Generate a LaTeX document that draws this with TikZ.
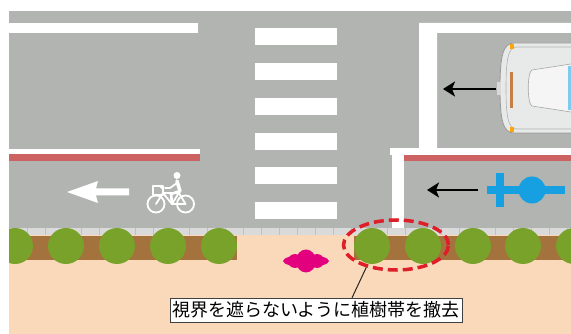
\documentclass[tikz,border=0pt]{standalone}
\usepackage{fontspec}
\newfontfamily\jpfont{Noto Sans CJK JP}
\usetikzlibrary{arrows.meta, shapes.geometric}

\definecolor{road}{RGB}{178,180,178}
\definecolor{walk}{RGB}{250,217,186}
\definecolor{bed}{RGB}{164,115,61}
\definecolor{treegreen}{RGB}{120,162,42}
\definecolor{laneRed}{RGB}{204,98,98}
\definecolor{curb}{RGB}{218,218,218}
\definecolor{signblue}{RGB}{22,160,226}
\definecolor{walker}{RGB}{226,0,126}
\definecolor{ringred}{RGB}{222,30,40}
\definecolor{carbody}{RGB}{232,233,233}
\definecolor{lamp}{RGB}{196,128,70}

\begin{document}
\begin{tikzpicture}[x=1pt, y=-1pt, >={Stealth[length=12pt, width=15pt, inset=3pt]},
  tree/.style={fill=treegreen},
  flow/.style={->, line width=2.6pt},
  notebox/.style={draw=black!75, fill=white, inner xsep=2pt, inner ysep=1pt,
    minimum height=24pt, font=\jpfont\fontsize{18}{20}\selectfont},
  ring/.style={ellipse, draw=ringred, line width=3.5pt, dash pattern=on 10pt off 5pt,
    minimum width=105pt, minimum height=50pt, inner sep=0pt}]
\useasboundingbox (0,0) rectangle (571,334);
\fill[white] (0,0) rectangle (571,334);
\begin{scope}
\clip (9,11) rectangle (571,334);

% carriageway and markings
\fill[road] (9,11) rectangle (571,228);
\fill[white] (9,23) rectangle (198,33);
\fill[white] (9,149) rectangle (200,154);
\fill[laneRed] (9,154) rectangle (200,161);
\foreach \y in {28,63,98,133,167,202}
  \fill[white] (255,\y) rectangle (337,\y+17);
\fill[white] (419,23) -- (571,23) -- (571,33) -- (437,33) -- (437,148) -- (419,148) -- cycle;
\fill[white] (390,148) rectangle (571,155);
\fill[white] (392,155) rectangle (404,228);
\fill[laneRed] (404,155) rectangle (571,161);

% car
\begin{scope}
\fill[carbody, draw=black!40, line width=0.8pt] (580,43) -- (514,43)
  .. controls (503,43) and (500,56) .. (500,88)
  .. controls (500,120) and (503,133) .. (514,133) -- (580,133);
\draw[black!30, line width=0.6pt] (580,47) -- (516,47)
  .. controls (508,48) and (506,60) .. (506,88)
  .. controls (506,116) and (508,128) .. (516,129) -- (580,129);
\draw[black!35, line width=0.6pt, fill=black!4] (571,64) -- (532,70)
  .. controls (527,72) and (527,104) .. (532,106) -- (571,112);
\fill[signblue!55] (568,66) rectangle (571,110);
\fill[lamp] (510,72) rectangle (513,108);
\fill[orange!70!yellow] (510,44) rectangle (514,49);
\fill[orange!70!yellow] (510,127) rectangle (514,132);
\fill[black!15] (497,82) rectangle (501,95);
\end{scope}

% cycle lane: arrow and pictogram
\fill[white] (67,192) -- (98,181) -- (96,188.5) -- (129,188.5) -- (129,195.5)
  -- (96,195.5) -- (98,203) -- cycle;
\begin{scope}[white, line width=1.8pt, line cap=round, line join=round]
\draw (156,204) circle (8.5pt);
\draw (185.5,204) circle (8.5pt);
\draw (156,204) -- (163,193) -- (172,204) -- (185.5,204) -- (179,193) -- (163,193);
\draw (172,204) -- (180,191);
\draw[line width=1.3pt] (153,186) rectangle (163,195);
\draw (163,189) -- (160,186);
\draw[line width=3.5pt] (177,181) -- (180,191);
\draw (177,183) -- (170,188) -- (165,188);
\draw[line width=2.6pt] (180,191) -- (171,194) -- (172,203);
\fill (177,175.5) circle (3.5pt);
\end{scope}

% traffic direction and symbol
\draw[flow] (496,89) -- (443,89);
\draw[flow] (478,190) -- (427,190);
\fill[signblue] (487,186) rectangle (565,194);
\fill[signblue] (496,173) rectangle (504,207);
\fill[signblue] (532,190) circle (13.5pt);

% kerb, footway and planting strip
\fill[curb] (9,228) rectangle (571,235);
\foreach \x in {9,27,...,571}
  \draw[black!25, line width=0.6pt] (\x,228) -- (\x,235);
\fill[walk] (9,235) rectangle (571,334);
\fill[bed] (9,236) rectangle (237,260);
\fill[bed] (354,236) rectangle (571,260);
\foreach \x in {15,66,117,168,219,372,423,473,523,574}
  \fill[tree] (\x,246) circle (18pt);

% pedestrian
\fill[walker] (306,261) ellipse [x radius=23pt, y radius=6pt];
\fill[walker] (306,261) ellipse [x radius=10pt, y radius=11.5pt];
\fill[walker] (295,261) ellipse [x radius=7pt, y radius=7pt];
\fill[walker] (317,261) ellipse [x radius=7pt, y radius=7pt];
\end{scope}

\node[ring] (removed) at (396,245) {};
\node[notebox] (note) at (316,310) {視界を遮らないように植樹帯を撤去};
\draw[black!85, line width=1pt] (removed.217) -- ([xshift=36pt]note.north);
\end{tikzpicture}
\end{document}
